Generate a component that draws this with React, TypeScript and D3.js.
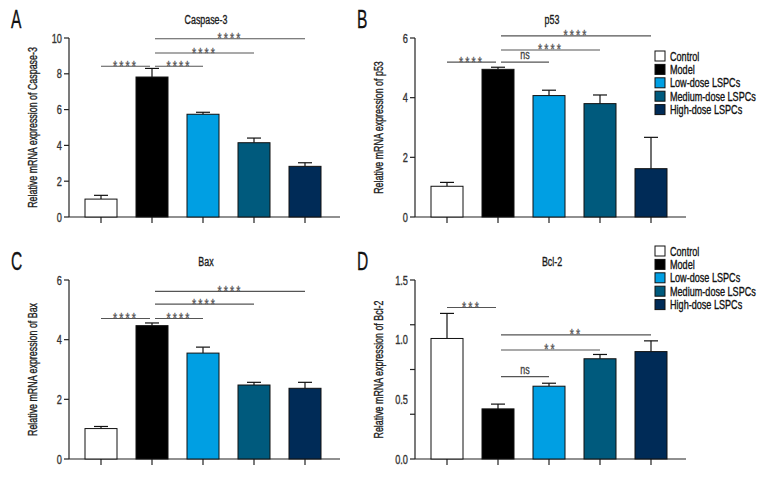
import * as d3 from 'd3';
import React, { useEffect } from 'react';

const groups = ['Control', 'Model', 'Low-dose LSPCs', 'Medium-dose LSPCs', 'High-dose LSPCs'];
const colors = ['#ffffff', '#000000', '#009fe3', '#005a7d', '#002b57'];

const caspaseMean = [1.0, 7.82, 5.74, 4.15, 2.83];
const caspaseErr = [0.21, 0.48, 0.11, 0.26, 0.2];
const p53Mean = [1.03, 4.95, 4.07, 3.8, 1.62];
const p53Err = [0.13, 0.07, 0.18, 0.29, 1.05];
const baxMean = [1.02, 4.47, 3.55, 2.48, 2.37];
const baxErr = [0.07, 0.09, 0.2, 0.09, 0.2];
const bcl2Mean = [1.01, 0.42, 0.61, 0.84, 0.9];
const bcl2Err = [0.21, 0.04, 0.025, 0.036, 0.09];

// [from group, to group, height in data units, label]
type Sig = [number, number, number, string];
const caspaseSig: Sig[] = [[0, 1, 8.42, '****'], [1, 2, 8.42, '****'], [1, 3, 9.16, '****'], [1, 4, 9.96, '****']];
const p53Sig: Sig[] = [[0, 1, 5.19, '****'], [1, 2, 5.19, 'ns'], [1, 3, 5.6, '****'], [1, 4, 6.07, '****']];
const baxSig: Sig[] = [[0, 1, 4.71, '****'], [1, 2, 4.71, '****'], [1, 3, 5.19, '****'], [1, 4, 5.62, '****']];
const bcl2Sig: Sig[] = [[0, 1, 1.27, '***'], [1, 2, 0.69, 'ns'], [1, 3, 0.914, '**'], [1, 4, 1.04, '**']];

const font = '"Liberation Sans", Arial, sans-serif';
const SX = 0.71; // squeeze text to look like a condensed face

// narrow text helper
const T: React.FC<{ x: number; y: number; size: number; anchor?: string; rot?: boolean; fill?: string; dy?: string; ls?: number; sx?: number; children: React.ReactNode }> =
  ({ x, y, size, anchor = 'start', rot, fill = '#1a1a1a', dy, ls, sx = SX, children }) => (
    <text transform={`translate(${x},${y})${rot ? ' rotate(-90)' : ''} scale(${sx},1)`} fontSize={size} textAnchor={anchor}
      fill={fill} stroke={fill} strokeWidth={0.35} dy={dy} letterSpacing={ls}>{children}</text>
  );

interface PanelProps {
  letter: string;
  title: string;
  ylabel: string;
  mean: number[];
  err: number[];
  sig: Sig[];
  ymax: number;
  yticks: number[];
  tickMarks?: number[];
  fmt: (v: number) => string;
  left: number;
  top: number;
  legendY?: number;
}

const Panel: React.FC<PanelProps> = ({ letter, title, ylabel, mean, err, sig, ymax, yticks, tickMarks, fmt, left, top, legendY }) => {
  const axisX = 69;
  const axisEnd = 340;
  const y = d3.scaleLinear().domain([0, ymax]).range([217, 38]);
  const x = d3.scalePoint<number>().domain(d3.range(groups.length)).range([101, 305]);
  const bw = 32;
  const marks = tickMarks ?? yticks;

  return (
    <g transform={`translate(${left},${top})`} fontFamily={font}>
      <T x={11} y={28} size={26} sx={0.6} fill="#111">{letter}</T>
      <T x={206} y={24} size={12.5} anchor="middle">{title}</T>
      <T x={37} y={(y(0) + y(ymax)) / 2} size={12.5} anchor="middle" rot>{ylabel}</T>

      {/* y axis */}
      <line x1={axisX} x2={axisX} y1={y(ymax)} y2={y(0)} stroke="#222" strokeWidth={1.2} />
      {marks.map((t, i) => (
        <line key={'m' + i} x1={axisX - 5} x2={axisX} y1={y(t)} y2={y(t)} stroke="#222" strokeWidth={1.2} />
      ))}
      {yticks.map((t, i) => (
        <T key={'t' + i} x={axisX - 7} y={y(t)} dy="0.36em" size={13} anchor="end" fill="#333">{fmt(t)}</T>
      ))}

      {/* x axis */}
      <line x1={axisX} x2={axisEnd} y1={y(0)} y2={y(0)} stroke="#222" strokeWidth={1.2} />
      {groups.map((_, i) => (
        <line key={'x' + i} x1={x(i)!} x2={x(i)!} y1={y(0)} y2={y(0) + 6} stroke="#222" strokeWidth={1.2} />
      ))}

      {/* bars */}
      {mean.map((m, i) => (
        <g key={'b' + i}>
          <line x1={x(i)!} x2={x(i)!} y1={y(m)} y2={y(m + err[i])} stroke="#111" strokeWidth={1.2} />
          <line x1={x(i)! - 7} x2={x(i)! + 7} y1={y(m + err[i])} y2={y(m + err[i])} stroke="#111" strokeWidth={1.2} />
          <rect x={x(i)! - bw / 2} y={y(m)} width={bw} height={y(0) - y(m)} fill={colors[i]} stroke="#111" strokeWidth={1} />
        </g>
      ))}

      {/* significance */}
      {sig.map(([a, b, h, label], i) => {
        const x1 = a === 1 ? x(a)! + 3 : x(a)!;
        const x2 = b === 1 ? x(b)! - 2 : x(b)!;
        const ns = label === 'ns';
        return (
          <g key={'s' + i}>
            <line x1={x1} x2={x2} y1={y(h)} y2={y(h)} stroke="#555" strokeWidth={1.1} />
            {ns
              ? <T x={(x1 + x2) / 2} y={y(h) - 3} size={12.5} anchor="middle" fill="#444">{label}</T>
              : <T x={(x1 + x2) / 2} y={y(h) + 4.5} size={15} ls={3} anchor="middle" fill="#555">{label}</T>}
          </g>
        );
      })}

      {legendY !== undefined && groups.map((g, i) => (
        <g key={'l' + i} transform={`translate(309,${legendY + i * 13.4})`}>
          <rect x={0} y={-5} width={10} height={10} fill={colors[i]} stroke="#111" />
          <T x={15} y={0} dy="0.36em" size={12.8} fill="#111">{g}</T>
        </g>
      ))}
    </g>
  );
};

const f0 = d3.format('d');
const f1 = d3.format('.1f');

export default function App() {
  useEffect(() => {
    document.body.style.margin = '0';
  }, []);
  return (
    <svg width={780} height={480} style={{ display: 'block', background: '#fff' }}>
      <Panel letter="A" title="Caspase-3" ylabel="Relative mRNA expression of Caspase-3" mean={caspaseMean} err={caspaseErr} sig={caspaseSig}
        ymax={10} yticks={[0, 2, 4, 6, 8, 10]} fmt={f0} left={0} top={0} />
      <Panel letter="B" title="p53" ylabel="Relative mRNA expression of p53" mean={p53Mean} err={p53Err} sig={p53Sig}
        ymax={6} yticks={[0, 2, 4, 6]} fmt={f0} left={346} top={0} legendY={56} />
      <Panel letter="C" title="Bax" ylabel="Relative mRNA expression of Bax" mean={baxMean} err={baxErr} sig={baxSig}
        ymax={6} yticks={[0, 2, 4, 6]} fmt={f0} left={0} top={242} />
      <Panel letter="D" title="Bcl-2" ylabel="Relative mRNA expression of Bcl-2" mean={bcl2Mean} err={bcl2Err} sig={bcl2Sig}
        ymax={1.5} yticks={[0, 0.5, 1, 1.5]} tickMarks={[0, 0.375, 0.75, 1.125, 1.5]} fmt={f1} left={346} top={242} legendY={9} />
    </svg>
  );
}
